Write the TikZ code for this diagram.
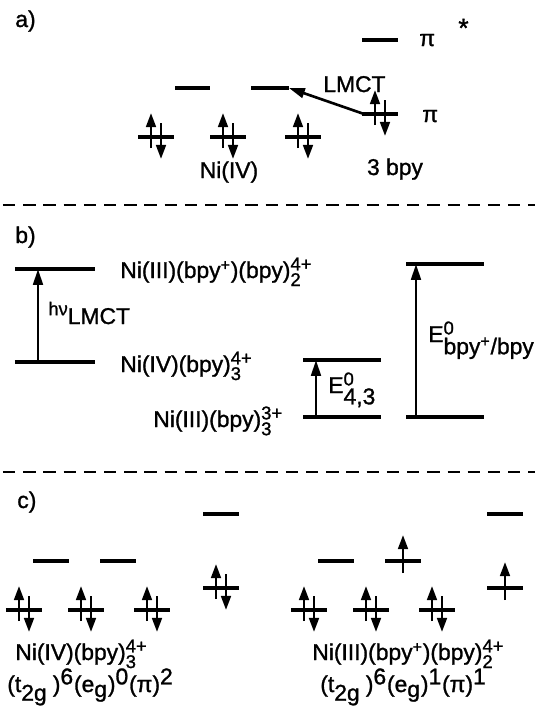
\documentclass[tikz,border=0pt]{standalone}
\usepackage{fontspec}
\setmainfont[FakeBold=1.2]{Liberation Sans}
\usetikzlibrary{arrows.meta}

\newcommand{\scr}{\fontsize{10.5}{12}\selectfont}
\newcommand{\chg}[2]{$^{\hbox{\scr #1}}_{\hbox{\scr #2}}$}

\tikzset{
  level/.style={line width=2.1pt},
  spin/.style={line width=1.5pt,-{Triangle[length=8pt,width=5.5pt]}},
  trans/.style={line width=1.5pt,-{Triangle[length=9pt,width=5.5pt]}},
  divider/.style={line width=1.2pt,dash pattern=on 7pt off 4.5pt},
  lbl/.style={anchor=base west,inner sep=0pt}
}

\begin{document}
\begin{tikzpicture}[x=0.02cm,y=-0.02cm,font=\fontsize{13}{15}\selectfont]
        \useasboundingbox (0,0) rectangle (535,708);

        \node[lbl] (tag-a) at (15,27) {a)};
        \draw[level] (175,88) -- (210,88);
        \draw[level] (251,88) coordinate (eg-l) -- (289,88) coordinate (eg-r);
        \foreach \cx/\cy in {156/137, 228/137, 303/137, 380/114} {
          \draw[level] (\cx-18,\cy) -- (\cx+18,\cy);
          \draw[spin] (\cx-5,\cy+11) -- (\cx-5,\cy-24);
          \draw[spin] (\cx+5,\cy-14) -- (\cx+5,\cy+22);
        }
        \draw[level] (362,40) -- (398,40);
        \node[lbl] (pistar) at (419,46) {π};
        \node[lbl] (star) at (458,37) {\fontsize{15}{17}\selectfont *};
        \node[lbl] (pi) at (422,122) {π};
        \coordinate (pi-occ) at (364,114);
        \draw[trans] (pi-occ) -- (eg-r);
        \node[lbl] (lmct) at (323,92) {LMCT};
        \node[anchor=base] (ni-a) at (229,178) {Ni(IV)};
        \node[anchor=base] (bpy-a) at (395,175) {3 bpy};

        \draw[divider] (3,205) -- (535,205);

        \node[lbl] (tag-b) at (15,243) {b)};
        \draw[level] (15,269) -- (95,269);
        \draw[level] (15,362) -- (95,362);
        \coordinate (hv-lo) at (38,362);
        \coordinate (hv-hi) at (38,269);
        \draw[trans] (hv-lo) -- (hv-hi);
        \node[lbl] (hv) at (48,324) {\raisebox{5pt}{\scr hν}LMCT};
        \node[lbl] (ni3p) at (120,278) {Ni(III)(bpy\textsuperscript{+})(bpy)\chg{4+}{2}};
        \node[lbl] (ni4) at (120,372) {Ni(IV)(bpy)\chg{4+}{3}};
        \node[lbl] (ni3) at (153,427) {Ni(III)(bpy)\chg{3+}{3}};

        \draw[level] (303,360) -- (381,360);
        \draw[level] (303,417) -- (381,417);
        \coordinate (e43-lo) at (316,417);
        \coordinate (e43-hi) at (316,360);
        \draw[trans] (e43-lo) -- (e43-hi);
        \node[lbl] (e43) at (328,393) {E$^{\hbox{\scr 0}}_{\hbox{4,3}}$};

        \draw[level] (406,264) -- (484,264);
        \draw[level] (406,417) -- (484,417);
        \coordinate (ebpy-lo) at (416,417);
        \coordinate (ebpy-hi) at (416,264);
        \draw[trans] (ebpy-lo) -- (ebpy-hi);
        \node[lbl] (ebpy) at (428,342) {E$^{\hbox{\scr 0}}_{\hbox{bpy\textsuperscript{+}/bpy}}$};

        \draw[divider] (3,472) -- (535,472);

        \node[lbl] (tag-c) at (17,508) {c)};
        \foreach \cx/\cy in {24/610, 86/610, 152/610, 221/588, 309/610, 371/610, 437/610} {
          \draw[level] (\cx-18,\cy) -- (\cx+18,\cy);
          \draw[spin] (\cx-5,\cy+11) -- (\cx-5,\cy-24);
          \draw[spin] (\cx+5,\cy-14) -- (\cx+5,\cy+22);
        }
        \foreach \cx/\cy in {51/561, 118/561, 221/514, 336/561, 505/514}
          \draw[level] (\cx-18,\cy) -- (\cx+18,\cy);
        \foreach \cx/\cy in {403/561, 505/588} {
          \draw[level] (\cx-18,\cy) -- (\cx+18,\cy);
          \draw[spin] (\cx,\cy+12) -- (\cx,\cy-26);
        }
        \node[lbl] (ni4-c) at (15,660) {Ni(IV)(bpy)\chg{4+}{3}};
        \node[lbl] (cfg-l) at (7,692) {(t$_{\hbox{2g}\kern3pt}$)$^{\hbox{6}}$(e$_{\hbox{g}}$)$^{\hbox{0}}$(π)$^{\hbox{2}}$};
        \node[lbl] (ni3p-c) at (312,660) {Ni(III)(bpy\textsuperscript{+})(bpy)\chg{4+}{2}};
        \node[lbl] (cfg-r) at (320,692) {(t$_{\hbox{2g}\kern3pt}$)$^{\hbox{6}}$(e$_{\hbox{g}}$)$^{\hbox{1}}$(π)$^{\hbox{1}}$};
    \end{tikzpicture}
\end{document}
